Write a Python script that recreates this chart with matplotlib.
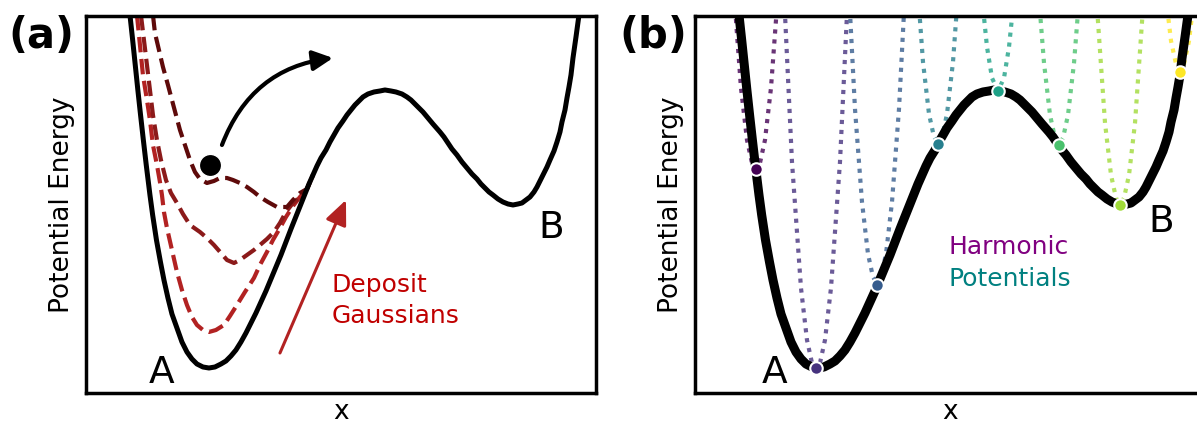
import matplotlib
matplotlib.use("Agg")
import numpy as np
import matplotlib.pyplot as plt

# Potential energy surface, arbitrary units
pes_x = [44, 46.7, 49.3, 51.9, 54.6, 57.4, 60.3, 64, 66.7, 70.5, 74.5, 78, 82, 86, 91, 96,
         101, 106, 111, 117, 123, 129, 135, 140, 145, 150, 155, 160, 165, 170, 175, 180,
         185, 190, 195, 200, 205, 211, 215, 219, 223, 227, 231, 235, 240, 244, 248, 252,
         257, 261, 265, 269, 273, 277, 282, 288, 294, 299, 305, 310, 316, 321, 325, 329,
         333, 337, 342, 347, 354, 358, 362, 366, 371, 376, 381, 386, 391, 395, 399, 403,
         407, 412, 417, 422, 427, 432, 436, 440, 444, 448, 451, 454, 457, 461, 464, 468,
         471, 474, 476, 479, 481, 483, 485, 487, 490, 493]
pes_e = [378, 353, 328, 303, 278, 253, 228, 198, 178, 153, 131, 113, 95, 79, 65, 51, 41, 34,
         29, 26, 25, 26, 29, 32, 37, 43, 51, 60, 70, 80, 91, 102, 114, 126, 138, 151, 164,
         179, 189, 199, 209, 218, 227, 235, 243, 251, 258, 265, 272, 278, 283, 288, 292, 296,
         299, 301, 302, 303, 302, 301, 299, 296, 293, 289, 285, 281, 275, 269, 261, 256, 250,
         244, 238, 231, 225, 219, 214, 209, 205, 201, 198, 194, 191, 189, 188, 189, 190, 193,
         196, 201, 206, 212, 218, 226, 233, 242, 251, 261, 271, 283, 295, 306, 318, 335, 356,
         378]

# (a) metadynamics: PES + deposited gaussians
gauss1_x = [51, 54, 57, 61, 64, 67, 71, 74, 76, 78, 81, 86, 91, 96, 101, 106, 111, 117,
            123, 130, 138, 144, 151, 159, 168, 174, 181, 187, 194, 200, 207, 214, 221, 227]
gauss1_e = [378, 348, 318, 293, 273, 248, 228, 211, 198, 181, 165, 143, 121, 103, 88, 76,
            68, 63, 61, 63, 68, 77, 88, 101, 115, 128, 141, 153, 165, 176, 187, 196, 204, 218]
gauss2_x = [55, 58, 61, 64, 67, 71, 75, 80, 85, 91, 97, 104, 114, 121, 128, 135, 141, 148,
            154, 161, 168, 174, 181, 188, 194, 200, 207, 214, 221, 227]
gauss2_e = [378, 353, 328, 303, 278, 253, 233, 213, 200, 190, 179, 168, 161, 155, 148, 140,
            133, 130, 133, 138, 143, 148, 154, 161, 170, 181, 190, 196, 204, 218]
gauss3_x = [67, 69, 73, 77, 82, 86, 90, 94, 99, 104, 109, 114, 121, 128, 134, 141, 147,
            154, 161, 168, 174, 182, 191, 201, 207, 214, 221, 227]
gauss3_e = [378, 360, 343, 326, 308, 293, 278, 263, 248, 233, 221, 214, 210, 212, 215, 215,
            213, 210, 206, 201, 196, 191, 186, 186, 193, 200, 204, 218]
gauss_colors = ["#b22222", "#8b1a1a", "#5e0a0a"]

ball_x = [124]
ball_e = [228]

# (b) umbrella sampling windows
win_x = [61, 121, 182, 243, 303, 364, 425, 485]
win_e = [224, 25, 108, 249, 302, 248, 188, 321]
harm_x = [
    [39, 46, 52, 57, 61, 65, 70, 76, 83],
    [89, 97, 106, 112, 117, 121, 125, 130, 136, 145, 153],
    [154, 160, 167, 173, 178, 182, 186, 191, 197, 204, 210],
    [223, 228, 234, 239, 243, 247, 252, 258, 263],
    [286.5, 292, 297, 303, 309, 314, 319.5],
    [343.5, 349, 355, 360, 364, 368, 373, 379, 384.5],
    [401, 410, 416, 421, 425, 429, 434, 440, 449],
    [470.4, 476, 481, 485, 489, 494, 499.6],
]
harm_e = [
    [400, 305, 253, 230, 224, 230, 253, 305, 400],
    [400, 231, 105, 53, 30, 24, 30, 53, 105, 231, 400],
    [400, 284, 191, 139, 116, 110, 116, 139, 191, 284, 400],
    [400, 331, 279, 256, 250, 256, 279, 331, 400],
    [400, 346, 315, 302, 315, 346, 400],
    [400, 330, 278, 255, 249, 255, 278, 330, 400],
    [400, 270, 218, 195, 189, 195, 218, 270, 400],
    [400, 352, 329, 323, 329, 352, 400],
]

fig = plt.figure(figsize=(11.97, 4.25), dpi=100)
ax_a = fig.add_axes([0.0718, 0.0753, 0.4261, 0.8871])
ax_b = fig.add_axes([0.5806, 0.0753, 0.4261, 0.8871])

for ax in (ax_a, ax_b):
    ax.set_xlim(0, 510)
    ax.set_ylim(0, 377)
    ax.set_xticks([])
    ax.set_yticks([])
    for s in ax.spines.values():
        s.set_linewidth(2.5)
    ax.set_xlabel("x", fontsize=19, labelpad=4)
    ax.set_ylabel("Potential Energy", fontsize=19, labelpad=8)

# --- panel (a)
for gx, ge, c in zip([gauss1_x, gauss2_x, gauss3_x], [gauss1_e, gauss2_e, gauss3_e], gauss_colors):
    ax_a.plot(gx, ge, "--", color=c, lw=3, zorder=2)
ax_a.plot(pes_x, pes_e, color="black", lw=3.6, zorder=3, solid_joinstyle="round")
ax_a.plot(ball_x, ball_e, "o", ms=16, color="black", mec="white", mew=1, zorder=4)

ax_a.annotate("", xy=(247, 335), xytext=(136, 248),
              arrowprops=dict(arrowstyle="-|>,head_length=0.4,head_width=0.2",
                              mutation_scale=30, color="black", lw=3,
                              connectionstyle="arc3,rad=-0.3", shrinkA=0, shrinkB=0))
ax_a.annotate("", xy=(260, 193), xytext=(194, 40),
              arrowprops=dict(arrowstyle="-|>,head_length=0.5,head_width=0.22",
                              mutation_scale=30, color="#b22222", lw=2.2,
                              shrinkA=0, shrinkB=0))

ax_a.text(246, 101, "Deposit", color="#c00000", fontsize=18, va="baseline")
ax_a.text(246, 70, "Gaussians", color="#c00000", fontsize=18, va="baseline")
ax_a.text(63, 10, "A", fontsize=27, va="baseline")
ax_a.text(452, 155, "B", fontsize=27, va="baseline")

# --- panel (b)
colors = plt.cm.viridis(np.linspace(0, 1, len(win_x)))
for hx, he, c in zip(harm_x, harm_e, colors):
    ax_b.plot(hx, he, color=c, lw=3, alpha=0.8, dashes=(1, 1.4), zorder=2)
ax_b.plot(pes_x, pes_e, color="black", lw=6.5, zorder=3, solid_joinstyle="round")
for wx, we, c in zip(win_x, win_e, colors):
    ax_b.plot(wx, we, "o", ms=9, color=c, mec="white", mew=1.5, zorder=4)

ax_b.text(254, 139, "Harmonic", color="purple", fontsize=18, va="baseline")
ax_b.text(254, 107, "Potentials", color="teal", fontsize=18, va="baseline")
ax_b.text(67, 10, "A", fontsize=27, va="baseline")
ax_b.text(453, 161, "B", fontsize=27, va="baseline")

fig.text(8 / 1197, 1 - 15 / 425, "(a)", fontsize=30, fontweight="bold", va="top")
fig.text(619 / 1197, 1 - 15 / 425, "(b)", fontsize=30, fontweight="bold", va="top")

plt.savefig("out.png", dpi=100)
